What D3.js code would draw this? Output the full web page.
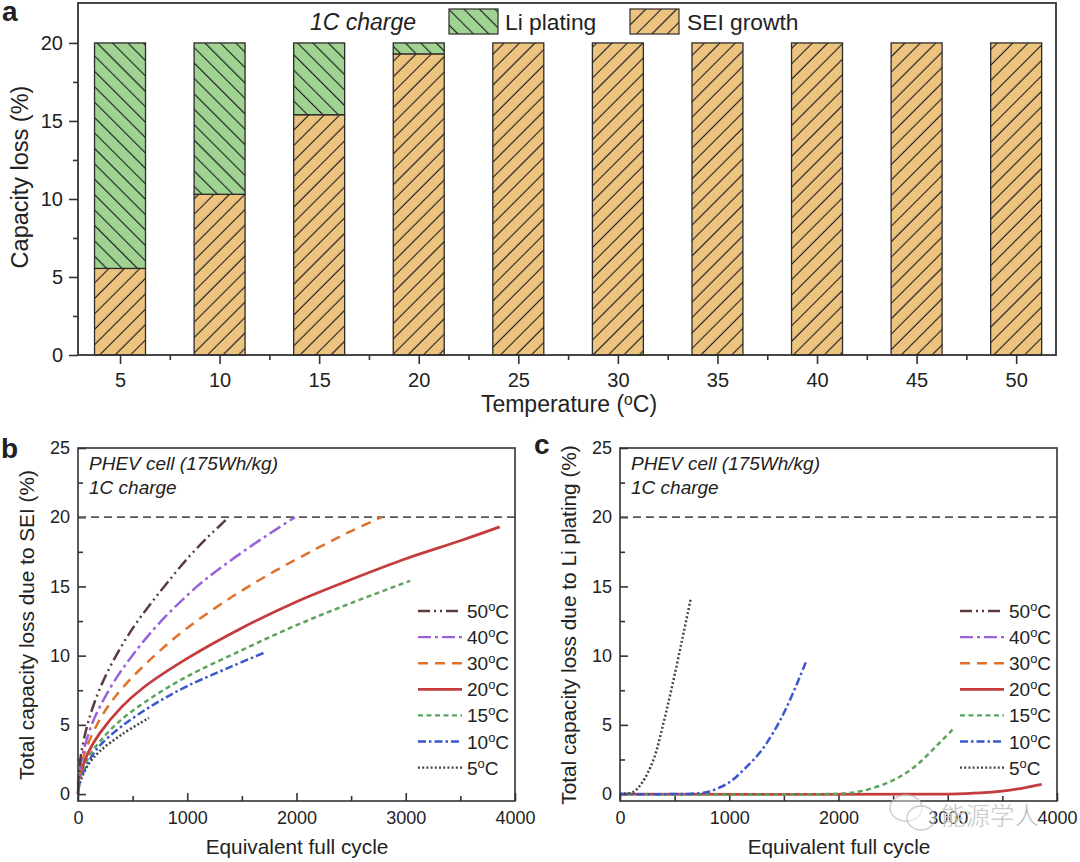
<!DOCTYPE html>
<html>
<head>
<meta charset="utf-8">
<script src="https://cdn.jsdelivr.net/npm/d3@7"></script>
<style>
	html, body { margin: 0; padding: 0; background: #fff; }
	svg { display: block; }
	text { font-family: "Liberation Sans", Arial, sans-serif; fill: #222; }
</style>
</head>
<body>
<div id="chart"></div>
<script>
// panel a
var temperatures = [5, 10, 15, 20, 25, 30, 35, 40, 45, 50];
var seiLoss = [5.55, 10.3, 15.4, 19.3, 20, 20, 20, 20, 20, 20];
var liLoss = [14.45, 9.7, 4.6, 0.7, 0, 0, 0, 0, 0, 0];
var tempMinorTicks = [7.5, 12.5, 17.5, 22.5, 27.5, 32.5, 37.5, 42.5, 47.5];

// panel b, capacity loss due to SEI: [cycle, loss]
var sei50 = [[0,0],[20,2.4],[50,3.8],[90,5.1],[150,6.6],[250,8.5],[385,10.5],[520,12.2],[660,13.7],[810,15.2],[1000,17],[1180,18.5],[1300,19.4],[1380,20]];
var sei40 = [[0,0],[20,1.9],[50,3.1],[125,5],[200,6.3],[320,8],[496,10],[750,12.4],[1090,15],[1350,16.6],[1600,18],[1800,19.05],[1985,20]];
var sei30 = [[0,0],[30,2],[80,3.4],[230,5.8],[400,7.6],[700,10],[1000,12],[1400,14.2],[1800,16.1],[2200,17.8],[2500,19],[2780,20]];
var sei20 = [[0,0.8],[30,1.7],[100,3.1],[200,4.4],[400,6.3],[600,7.7],[1000,9.8],[1500,12],[2000,13.9],[2500,15.5],[3000,17],[3500,18.3],[3860,19.3]];
var sei15 = [[0,0.5],[30,1.4],[100,2.7],[200,3.8],[400,5.4],[700,7.1],[1000,8.5],[1500,10.4],[2000,12.2],[2500,13.8],[3040,15.4]];
var sei10 = [[0,0.3],[30,1.2],[100,2.4],[200,3.5],[400,4.9],[700,6.5],[1000,7.8],[1400,9.2],[1700,10.2]];
var sei5 = [[0,0.2],[30,1.1],[100,2.2],[200,3.1],[400,4.3],[650,5.5]];

// panel c, capacity loss due to Li plating
var li20 = [[0,0],[3000,0],[3300,0.08],[3500,0.22],[3700,0.45],[3860,0.7]];
var li15 = [[0,0],[1900,0],[2200,0.2],[2500,1],[2700,2],[2900,3.5],[3050,4.7]];
var li10 = [[0,0],[500,0],[650,0.03],[800,0.15],[1000,0.85],[1150,1.9],[1280,3],[1400,4.4],[1527,6.3],[1700,9.5]];
var li5 = [[0,0],[120,0.15],[200,0.8],[305,2.45],[400,5.2],[476,7.75],[570,11.2],[650,14.2]];

var cycleTicks = [0, 1000, 2000, 3000, 4000];
var cycleMinorTicks = [500, 1500, 2500, 3500];
var lossTicks = [0, 5, 10, 15, 20, 25];
var lossMinorTicks = [2.5, 7.5, 12.5, 17.5, 22.5];
var capacityTicks = [0, 5, 10, 15, 20];
var capacityMinorTicks = [2.5, 7.5, 12.5, 17.5];

var legendTemps = [50, 40, 30, 20, 15, 10, 5];
var legendColors = ["#5b3b3b", "#9a62d8", "#e0702a", "#c43c3c", "#5ba35f", "#3a57cc", "#444444"];
var legendDashes = ["12,4,2,4,2,4", "13,4,3,4", "10,7", null, "5,3.5", "8,3,2.5,3", "2,2.2"];

var svg = d3.select("#chart").append("svg")
	.attr("width", 1080)
	.attr("height", 862);

var defs = svg.append("defs");
function addHatch(id, angle, color) {
	var p = defs.append("pattern")
		.attr("id", id)
		.attr("patternUnits", "userSpaceOnUse")
		.attr("width", 10.9)
		.attr("height", 10.9)
		.attr("patternTransform", "rotate(" + angle + ")");
	p.append("rect").attr("width", 10.9).attr("height", 10.9).attr("fill", color);
	p.append("line").attr("x1", 0).attr("x2", 10.9).attr("y1", 5.4).attr("y2", 5.4)
		.attr("stroke", "#1f1f1f").attr("stroke-width", 1.15);
}
addHatch("hatchLi", 45, "#a0d292");
addHatch("hatchSei", -45, "#edc380");

function styleAxis(g) {
	g.select(".domain").remove();
	g.selectAll("line").attr("stroke", "#333").attr("stroke-width", 1.6);
	g.selectAll("text").attr("font-size", 20).attr("fill", "#222");
}

// degree label, the o is raised like a superscript
function degreeText(t, before, after) {
	t.append("tspan").text(before);
	t.append("tspan").text("o").attr("font-size", "0.68em").attr("dy", -7);
	t.append("tspan").text(after).attr("dy", 7);
}

function panelLetter(txt, x, y) {
	svg.append("text").attr("x", x).attr("y", y)
		.attr("font-size", 28).attr("font-weight", "bold").attr("fill", "#111").text(txt);
}

// ---- panel a ----
var xA = d3.scaleLinear().domain([2.89, 52]).range([78, 1056]);
var yA = d3.scaleLinear().domain([0, 22.56]).range([355, 3]);
var barWidth = xA(7.56) - xA(5);

var barA = svg.append("g");
barA.selectAll("rect.sei").data(temperatures).enter().append("rect")
	.attr("class", "sei")
	.attr("x", d => xA(d) - barWidth / 2)
	.attr("width", barWidth)
	.attr("y", (d, i) => yA(seiLoss[i]))
	.attr("height", (d, i) => yA(0) - yA(seiLoss[i]))
	.attr("fill", "url(#hatchSei)").attr("stroke", "#2b2b2b").attr("stroke-width", 1.3);
barA.selectAll("rect.li").data(temperatures.filter((d, i) => liLoss[i] > 0)).enter().append("rect")
	.attr("class", "li")
	.attr("x", d => xA(d) - barWidth / 2)
	.attr("width", barWidth)
	.attr("y", (d, i) => yA(seiLoss[i] + liLoss[i]))
	.attr("height", (d, i) => yA(seiLoss[i]) - yA(seiLoss[i] + liLoss[i]))
	.attr("fill", "url(#hatchLi)").attr("stroke", "#2b2b2b").attr("stroke-width", 1.3);

svg.append("g").attr("transform", "translate(0,355)")
	.call(d3.axisBottom(xA).tickValues(temperatures).tickSize(9).tickPadding(9)).call(styleAxis);
svg.append("g").attr("transform", "translate(0,355)")
	.call(d3.axisBottom(xA).tickValues(tempMinorTicks).tickSize(5).tickFormat("")).call(styleAxis);
svg.append("g").attr("transform", "translate(78,0)")
	.call(d3.axisLeft(yA).tickValues(capacityTicks).tickSize(9).tickPadding(6)).call(styleAxis);
svg.append("g").attr("transform", "translate(78,0)")
	.call(d3.axisLeft(yA).tickValues(capacityMinorTicks).tickSize(5).tickFormat("")).call(styleAxis);
svg.append("rect").attr("x", 78).attr("y", 3).attr("width", 978).attr("height", 352)
	.attr("fill", "none").attr("stroke", "#333").attr("stroke-width", 1.8);

svg.append("text").attr("x", 310).attr("y", 30).attr("font-size", 23).attr("font-style", "italic").text("1C charge");
svg.append("rect").attr("x", 449).attr("y", 9).attr("width", 49).attr("height", 25)
	.attr("fill", "url(#hatchLi)").attr("stroke", "#2b2b2b").attr("stroke-width", 1.2);
svg.append("text").attr("x", 505).attr("y", 30).attr("font-size", 22.8).text("Li plating");
svg.append("rect").attr("x", 630).attr("y", 9).attr("width", 49).attr("height", 25)
	.attr("fill", "url(#hatchSei)").attr("stroke", "#2b2b2b").attr("stroke-width", 1.2);
svg.append("text").attr("x", 687).attr("y", 30).attr("font-size", 22.8).text("SEI growth");

svg.append("text").attr("transform", "translate(28,177) rotate(-90)").attr("text-anchor", "middle")
	.attr("font-size", 23.5).text("Capacity loss (%)");
svg.append("text").attr("x", 569).attr("y", 412).attr("text-anchor", "middle").attr("font-size", 23)
	.call(degreeText, "Temperature (", "C)");

panelLetter("a", 2, 21);

// ---- panels b and c ----
function lossPanel(opts) {
	var left = opts.left, right = left + 437;
	var x = d3.scaleLinear().domain([0, 4000]).range([left, right]);
	var y = d3.scaleLinear().domain([-0.5, 25]).range([801, 448]);
	var g = svg.append("g");

	g.append("g").attr("transform", "translate(0,801)")
		.call(d3.axisBottom(x).tickValues(cycleTicks).tickFormat(d3.format("d")).tickSize(-8).tickPadding(10)).call(styleAxis);
	g.append("g").attr("transform", "translate(0,801)")
		.call(d3.axisBottom(x).tickValues(cycleMinorTicks).tickSize(-5).tickFormat("")).call(styleAxis);
	g.append("g").attr("transform", "translate(" + left + ",0)")
		.call(d3.axisLeft(y).tickValues(lossTicks).tickSize(-8).tickPadding(8)).call(styleAxis);
	g.append("g").attr("transform", "translate(" + left + ",0)")
		.call(d3.axisLeft(y).tickValues(lossMinorTicks).tickSize(-5).tickFormat("")).call(styleAxis);
	g.selectAll("g.tick text").attr("font-size", 18);

	g.append("line").attr("x1", left).attr("x2", right).attr("y1", y(20)).attr("y2", y(20))
		.attr("stroke", "#555").attr("stroke-width", 1.7).attr("stroke-dasharray", "8,5");

	var line = d3.line().x(d => x(d[0])).y(d => y(d[1])).curve(d3.curveCatmullRom.alpha(0.5));
	opts.series.forEach(s => {
		g.append("path").datum(s.values)
			.attr("d", line)
			.attr("fill", "none")
			.attr("stroke", legendColors[s.idx])
			.attr("stroke-width", s.idx == 3 ? 2.8 : 2.5)
			.attr("stroke-dasharray", legendDashes[s.idx]);
	});

	g.append("rect").attr("x", left).attr("y", 448).attr("width", 437).attr("height", 353)
		.attr("fill", "none").attr("stroke", "#333").attr("stroke-width", 1.6);

	g.append("text").attr("x", left + 11).attr("y", 470).attr("font-size", 19).attr("font-style", "italic")
		.text("PHEV cell (175Wh/kg)");
	g.append("text").attr("x", left + 11).attr("y", 494).attr("font-size", 19).attr("font-style", "italic")
		.text("1C charge");

	legendTemps.forEach((t, i) => {
		var ly = 611 + i * 26.1;
		g.append("line").attr("x1", left + 340).attr("x2", left + 384).attr("y1", ly).attr("y2", ly)
			.attr("stroke", legendColors[i]).attr("stroke-width", i == 3 ? 2.8 : 2.4)
			.attr("stroke-dasharray", legendDashes[i]);
		g.append("text").attr("x", left + 389).attr("y", ly + 7).attr("font-size", 19)
			.call(degreeText, String(t), "C");
	});

	g.append("text").attr("transform", "translate(" + (left - 44) + ",625) rotate(-90)")
		.attr("text-anchor", "middle").attr("font-size", 20.8).text(opts.yTitle);
	g.append("text").attr("x", left + 219).attr("y", 854)
		.attr("text-anchor", "middle").attr("font-size", 20.8).text("Equivalent full cycle");
}

lossPanel({
	left: 78,
	yTitle: "Total capacity loss due to SEI (%)",
	series: [
		{ idx: 6, values: sei5 }, { idx: 5, values: sei10 }, { idx: 4, values: sei15 },
		{ idx: 3, values: sei20 }, { idx: 2, values: sei30 }, { idx: 1, values: sei40 }, { idx: 0, values: sei50 }
	]
});
// the lines lie on top of each other along zero, the lower temperatures end up above
lossPanel({
	left: 620,
	yTitle: "Total capacity loss due to Li plating (%)",
	series: [
		{ idx: 3, values: li20 }, { idx: 4, values: li15 }, { idx: 5, values: li10 }, { idx: 6, values: li5 }
	]
});

panelLetter("b", 1, 458);
panelLetter("c", 534, 454);

// watermark over the lower right corner
var mark = svg.append("g").attr("opacity", 0.8);
[[906, 808, 16, 13], [921, 818, 14, 12]].forEach(b => {
	mark.append("ellipse").attr("cx", b[0]).attr("cy", b[1]).attr("rx", b[2]).attr("ry", b[3])
		.attr("fill", "rgba(255,255,255,0.55)").attr("stroke", "#bdbdbd").attr("stroke-width", 1.3);
});
mark.append("text").attr("x", 941).attr("y", 825)
	.attr("font-size", 24.5)
	.attr("stroke", "#fff").attr("stroke-width", 0.6)
	.style("font-family", "'Noto Sans CJK SC'").style("fill", "#a8a8a8")
	.text("能源学人");
</script>
</body>
</html>
